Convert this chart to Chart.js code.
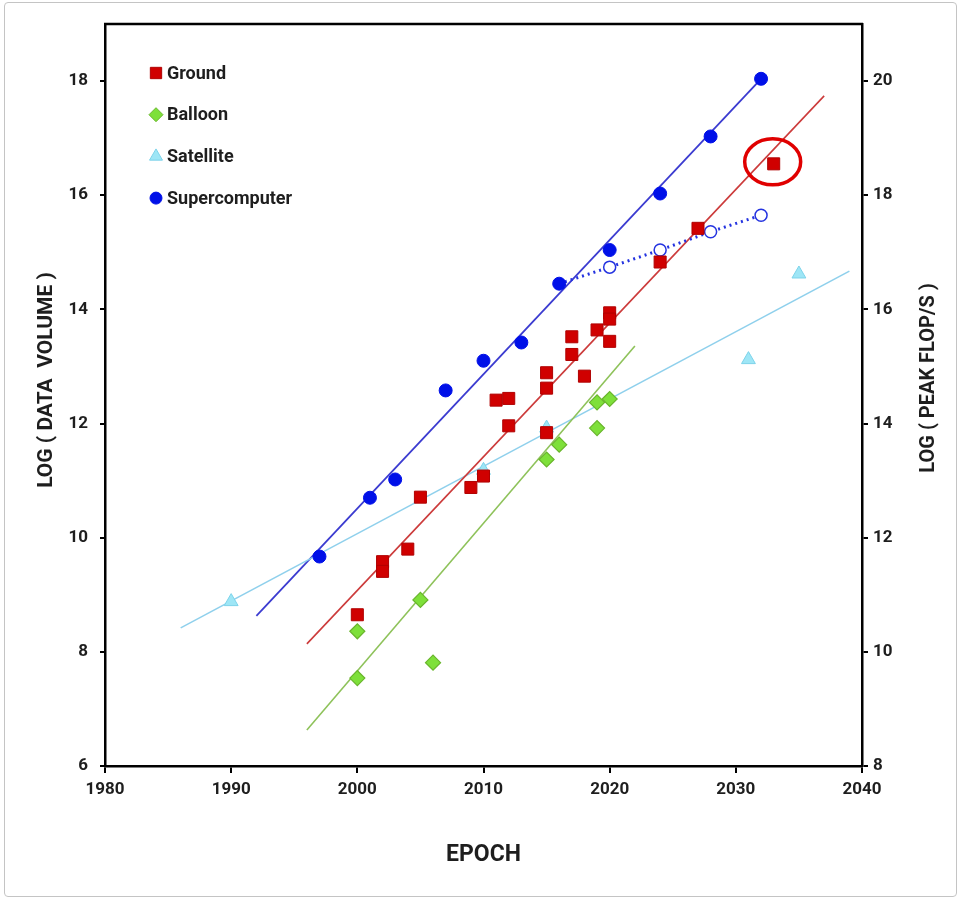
<!DOCTYPE html>
<html>
<head>
<meta charset="utf-8">
<script src="https://cdn.jsdelivr.net/npm/chart.js@4.4.1/dist/chart.umd.min.js"></script>
<style>
    html, body { margin: 0; padding: 0; background: #fff; }
    #wrap { position: relative; width: 961px; height: 899px; }
    #frame { position: absolute; left: 4px; top: 2px; width: 951px; height: 893px; border: 1px solid #c4c4c4; border-radius: 4px; pointer-events: none; }
    canvas { position: absolute; left: 0; top: 0; }
</style>
</head>
<body>
<div id="wrap">
    <canvas id="epochChart" width="961" height="899"></canvas>
    <div id="frame"></div>
</div>
<script>
const groundYears = [2000, 2002, 2002, 2004, 2005, 2009, 2010, 2011, 2012, 2012, 2015, 2015, 2015, 2017, 2017, 2018, 2019, 2020, 2020, 2020, 2024, 2027, 2033];
const groundLog = [8.65, 9.58, 9.41, 9.80, 10.71, 10.88, 11.08, 12.41, 12.44, 11.96, 12.89, 12.62, 11.84, 13.52, 13.21, 12.83, 13.64, 13.94, 13.83, 13.44, 14.83, 15.42, 16.55];

const balloonYears = [2000, 2000, 2005, 2006, 2015, 2016, 2019, 2019, 2020];
const balloonLog = [8.36, 7.54, 8.91, 7.81, 11.37, 11.63, 11.92, 12.37, 12.43];

const satelliteYears = [1990, 2010, 2015, 2031, 2035];
const satelliteLog = [8.88, 11.18, 11.92, 13.12, 14.62];

// supercomputers are on the right axis (peak flop/s)
const superYears = [1997, 2001, 2003, 2007, 2010, 2013, 2016, 2020, 2024, 2028, 2032];
const superFlops = [11.67, 12.70, 13.02, 14.58, 15.10, 15.42, 16.45, 17.04, 18.03, 19.03, 20.04];

const projYears = [2016, 2020, 2024, 2028, 2032];
const projFlops = [16.45, 16.74, 17.04, 17.36, 17.65];

// trend lines, start and end
const groundFitYears = [1996, 2037];
const groundFitLog = [8.14, 17.74];
const balloonFitYears = [1996, 2022];
const balloonFitLog = [6.63, 13.36];
const satelliteFitYears = [1986, 2039];
const satelliteFitLog = [8.42, 14.67];
const superFitYears = [1992, 2032];
const superFitFlops = [10.63, 20.04];

// the circled point
const circledYear = 2033;
const circledLog = 16.55;

const xTicks = [1980, 1990, 2000, 2010, 2020, 2030, 2040];

const zip = (xs, ys) => xs.map((x, i) => ({ x: x, y: ys[i] }));

const FONT = 'Roboto, "Open Sans", sans-serif';
const TEXT = '#1e1e1e';

const RED = '#d00000';
const GREEN = '#7ee03a';
const CYAN = '#9ee6f6';
const BLUE = '#0010e8';

const legendItems = [
    { label: 'Ground', style: 'rect', fill: RED, stroke: '#b00000', r: 8 },
    { label: 'Balloon', style: 'rectRot', fill: GREEN, stroke: '#69b52c', r: 7 },
    { label: 'Satellite', style: 'triangle', fill: CYAN, stroke: '#7dd3ea', r: 7.5 },
    { label: 'Supercomputer', style: 'circle', fill: BLUE, stroke: BLUE, r: 6 }
];

const extrasPlugin = {
    id: 'extras',
    afterDraw(chart) {
        const ctx = chart.ctx;
        const area = chart.chartArea;
        const xs = chart.scales.x;
        const ys = chart.scales.y;

        // top edge of the frame
        ctx.save();
        ctx.strokeStyle = '#000';
        ctx.lineWidth = 2.5;
        ctx.beginPath();
        ctx.moveTo(area.left - 1, area.top);
        ctx.lineTo(area.right + 1, area.top);
        ctx.stroke();

        // red ellipse round the newest ground point
        const cx = xs.getPixelForValue(circledYear) - 1;
        const cy = ys.getPixelForValue(circledLog) - 2;
        ctx.strokeStyle = '#e00000';
        ctx.lineWidth = 3.5;
        ctx.beginPath();
        ctx.ellipse(cx, cy, 28, 23, 0, 0, Math.PI * 2);
        ctx.stroke();

        // legend
        ctx.font = 'bold 18px ' + FONT;
        ctx.textBaseline = 'middle';
        ctx.textAlign = 'left';
        legendItems.forEach((item, i) => {
            const ly = 73 + i * 41.7;
            ctx.fillStyle = item.fill;
            ctx.strokeStyle = item.stroke;
            ctx.lineWidth = 1;
            Chart.helpers.drawPoint(ctx, { pointStyle: item.style, radius: item.r, borderWidth: 1 }, 156, ly);
            ctx.fillStyle = TEXT;
            ctx.fillText(item.label, 167, ly + 1);
        });

        // axis titles (both read bottom to top)
        ctx.font = 'bold 21px ' + FONT;
        ctx.textAlign = 'center';
        ctx.fillStyle = TEXT;
        ctx.translate(47, 380);
        ctx.rotate(-Math.PI / 2);
        ctx.fillText('LOG ( DATA  VOLUME )', 0, 0);
        ctx.restore();

        ctx.save();
        ctx.font = 'bold 20px ' + FONT;
        ctx.textAlign = 'center';
        ctx.textBaseline = 'middle';
        ctx.fillStyle = TEXT;
        ctx.translate(929, 378);
        ctx.rotate(-Math.PI / 2);
        ctx.fillText('LOG ( PEAK FLOP/S )', 0, 0);
        ctx.restore();
    }
};

const tickFont = { family: FONT, size: 17, weight: 'bold' };

new Chart(document.getElementById('epochChart').getContext('2d'), {
    type: 'scatter',
    data: {
        datasets: [
            {
                label: 'Ground',
                data: zip(groundYears, groundLog),
                pointStyle: 'rect',
                pointRadius: 8.5,
                backgroundColor: RED,
                borderColor: '#b00000',
                borderWidth: 1
            },
            {
                label: 'Balloon',
                data: zip(balloonYears, balloonLog),
                pointStyle: 'rectRot',
                pointRadius: 7.5,
                backgroundColor: GREEN,
                borderColor: '#69b52c',
                borderWidth: 1.2
            },
            {
                label: 'Satellite',
                data: zip(satelliteYears, satelliteLog),
                pointStyle: 'triangle',
                pointRadius: 8,
                backgroundColor: CYAN,
                borderColor: '#7dd3ea',
                borderWidth: 1
            },
            {
                label: 'Supercomputer',
                data: zip(superYears, superFlops),
                yAxisID: 'y2',
                pointStyle: 'circle',
                pointRadius: 6.5,
                backgroundColor: BLUE,
                borderColor: BLUE,
                borderWidth: 1
            },
            {
                label: 'Projected',
                data: zip(projYears, projFlops),
                yAxisID: 'y2',
                showLine: true,
                borderDash: [2, 4],
                borderWidth: 3,
                borderColor: '#2433e0',
                pointRadius: projYears.map((y, i) => i === 0 ? 0 : 6),
                pointBorderWidth: 1.5,
                pointBackgroundColor: '#fff',
                pointBorderColor: '#2433e0'
            },
            {
                label: 'Ground fit',
                data: zip(groundFitYears, groundFitLog),
                showLine: true,
                pointRadius: 0,
                borderColor: '#cc3b3b',
                borderWidth: 1.6
            },
            {
                label: 'Balloon fit',
                data: zip(balloonFitYears, balloonFitLog),
                showLine: true,
                pointRadius: 0,
                borderColor: '#8ec25a',
                borderWidth: 1.6
            },
            {
                label: 'Satellite fit',
                data: zip(satelliteFitYears, satelliteFitLog),
                showLine: true,
                pointRadius: 0,
                borderColor: '#8fd0ec',
                borderWidth: 1.6
            },
            {
                label: 'Supercomputer fit',
                data: zip(superFitYears, superFitFlops),
                yAxisID: 'y2',
                showLine: true,
                pointRadius: 0,
                borderColor: '#3b3bd0',
                borderWidth: 1.8
            }
        ]
    },
    options: {
        responsive: false,
        animation: false,
        layout: { padding: { top: 24, left: 0, right: 0, bottom: 0 } },
        plugins: {
            legend: { display: false },
            tooltip: { enabled: false }
        },
        scales: {
            x: {
                type: 'linear',
                min: 1980,
                max: 2040,
                afterBuildTicks: (scale) => { scale.ticks = xTicks.map(v => ({ value: v })); },
                ticks: {
                    callback: (v) => String(v),
                    font: tickFont,
                    color: TEXT,
                    padding: 7,
                    maxRotation: 0
                },
                grid: { drawOnChartArea: false, color: '#000', lineWidth: 2, tickLength: 7 },
                border: { color: '#000', width: 2.5 },
                title: {
                    display: true,
                    text: 'EPOCH',
                    color: TEXT,
                    font: { family: FONT, size: 23, weight: 'bold' },
                    padding: { top: 0, bottom: 30 }
                },
                afterFit: (scale) => { scale.height = 133; }
            },
            y: {
                position: 'left',
                min: 6,
                max: 19,
                ticks: {
                    stepSize: 2,
                    includeBounds: false,
                    font: tickFont,
                    color: TEXT,
                    padding: 12
                },
                grid: { drawOnChartArea: false, color: '#000', lineWidth: 2, tickLength: 5 },
                border: { color: '#000', width: 2.5 },
                afterFit: (scale) => { scale.width = 105; }
            },
            y2: {
                position: 'right',
                min: 8,
                max: 21,
                ticks: {
                    stepSize: 2,
                    includeBounds: false,
                    font: tickFont,
                    color: TEXT,
                    padding: 5
                },
                grid: { drawOnChartArea: false, color: '#000', lineWidth: 2, tickLength: 6 },
                border: { color: '#000', width: 2.5 },
                afterFit: (scale) => { scale.width = 99; }
            }
        }
    },
    plugins: [extrasPlugin]
});
</script>
</body>
</html>
